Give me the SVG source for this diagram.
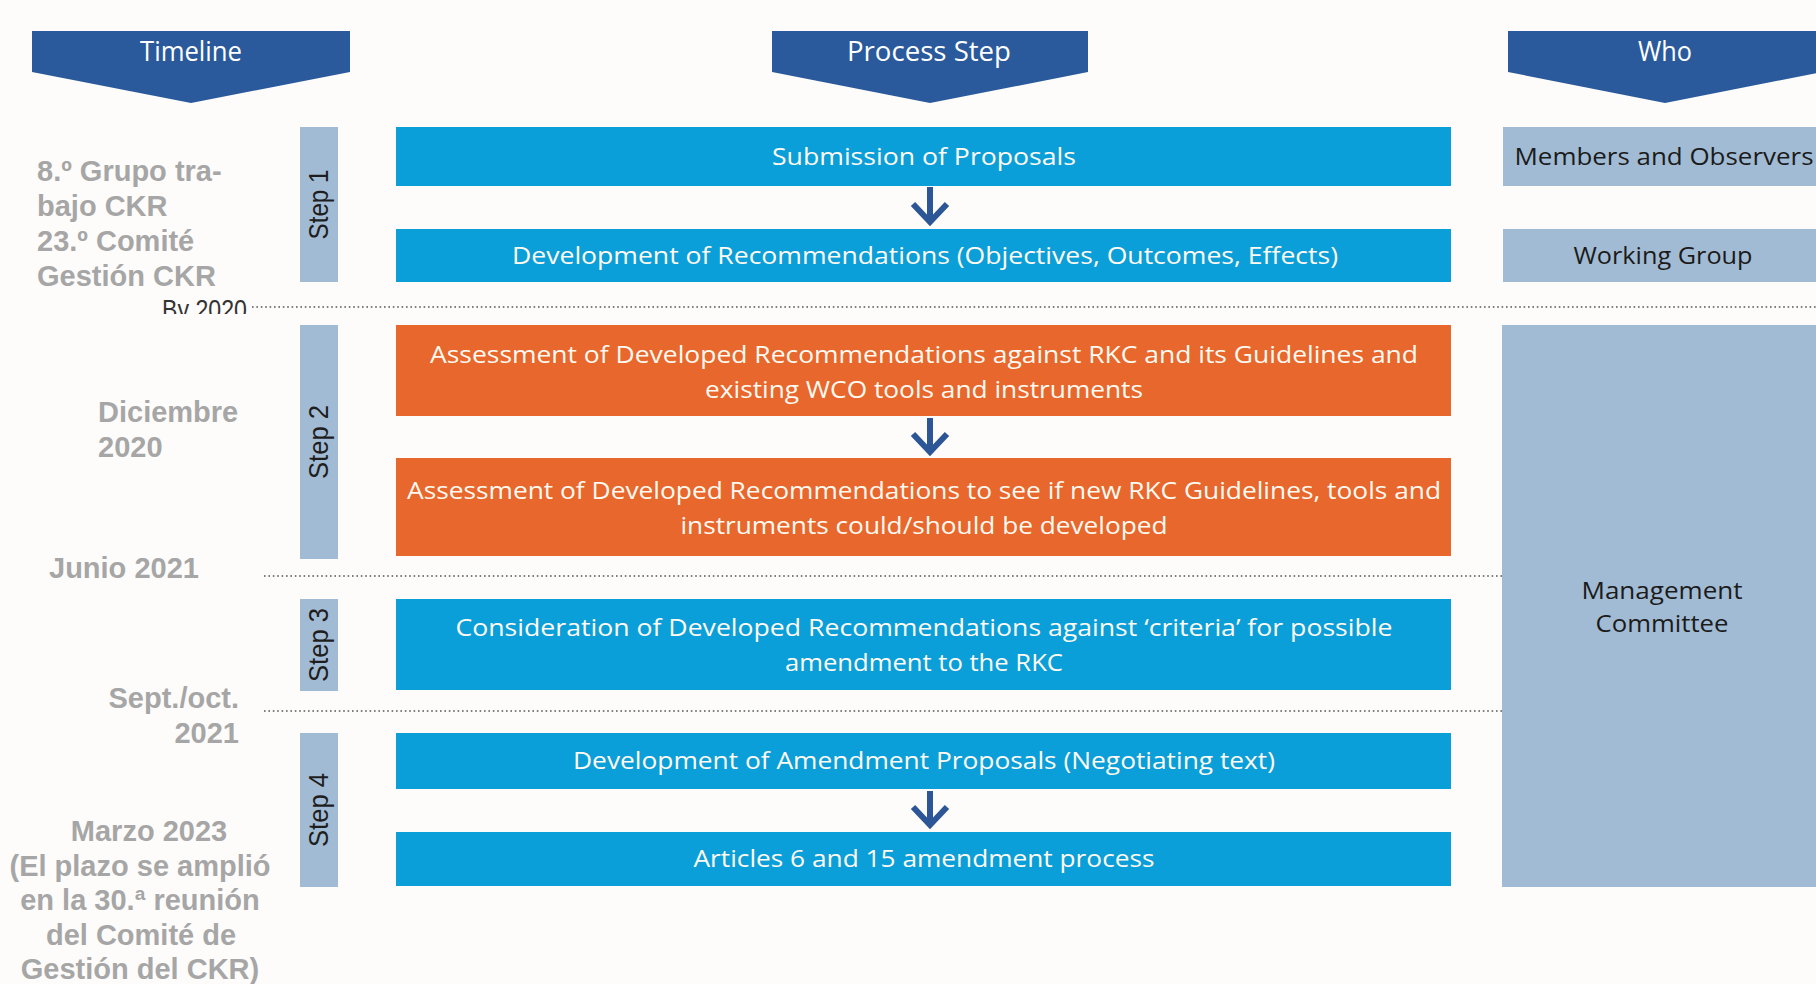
<svg xmlns="http://www.w3.org/2000/svg" width="1816" height="984" viewBox="0 0 1816 984">
<style>
.hdr{fill:#2a5a9b}
.htx{font-family:"Open Sans","Liberation Sans",sans-serif;font-size:27px;fill:#ffffff;text-anchor:middle}
.bx{fill:#0a9fd9}
.or{fill:#e8672c}
.st{fill:#a2bbd4}
.btx{font-family:"Open Sans","Liberation Sans",sans-serif;font-size:24px;fill:#fffaf2;text-anchor:middle}
.wtx{font-family:"Open Sans","Liberation Sans",sans-serif;font-size:24px;fill:#1b1b1b;text-anchor:middle}
.gtx{font-family:"Liberation Sans",Arial,sans-serif;font-weight:bold;font-size:29px;fill:#a6a6a6}
.stp{font-family:"Liberation Sans",Arial,sans-serif;font-size:28px;fill:#1e1e1e;text-anchor:middle}
.dot{stroke:#555;stroke-width:1.6;stroke-dasharray:1.6 2.8;fill:none}
.arr{stroke:#2d5696;stroke-width:6;fill:none}
</style>
<defs>
<clipPath id="clipBy"><rect x="150" y="285" width="110" height="29"/></clipPath>
</defs>
<rect x="0" y="0" width="1816" height="984" fill="#fdfcfa"/>

<g id="hdr-timeline">
<polygon class="hdr" points="32,31 350,31 350,72 191,103 32,72"/>
<text class="htx" x="191" y="61" textLength="102" lengthAdjust="spacingAndGlyphs">Timeline</text>
</g>
<g id="hdr-process">
<polygon class="hdr" points="772,31 1088,31 1088,72 930,103 772,72"/>
<text class="htx" x="929" y="61" textLength="164" lengthAdjust="spacingAndGlyphs">Process Step</text>
</g>
<g id="hdr-who">
<polygon class="hdr" points="1508,31 1822,31 1822,72 1665,103 1508,72"/>
<text class="htx" x="1665" y="61" textLength="54" lengthAdjust="spacingAndGlyphs">Who</text>
</g>

<g id="timeline-texts">
<text class="gtx" x="37" y="181">8.º Grupo tra-</text>
<text class="gtx" x="37" y="216">bajo CKR</text>
<text class="gtx" x="37" y="251">23.º Comité</text>
<text class="gtx" x="37" y="286">Gestión CKR</text>
<text clip-path="url(#clipBy)" x="247" y="319" text-anchor="end" font-family="Liberation Sans,Arial,sans-serif" font-size="28" fill="#333" textLength="85" lengthAdjust="spacingAndGlyphs">By 2020</text>
<text class="gtx" x="98" y="422">Diciembre</text>
<text class="gtx" x="98" y="457">2020</text>
<text class="gtx" x="49" y="578">Junio 2021</text>
<text class="gtx" x="239" y="708" text-anchor="end">Sept./oct.</text>
<text class="gtx" x="239" y="743" text-anchor="end">2021</text>
<text class="gtx" x="149" y="841" text-anchor="middle">Marzo 2023</text>
<text class="gtx" x="140" y="876" text-anchor="middle">(El plazo se amplió</text>
<text class="gtx" x="140" y="910" text-anchor="middle">en la 30.ª reunión</text>
<text class="gtx" x="141" y="945" text-anchor="middle">del Comité de</text>
<text class="gtx" x="140" y="979" text-anchor="middle">Gestión del CKR)</text>
</g>

<g id="step1">
<rect class="st" x="300" y="127" width="38" height="155"/>
<text class="stp" transform="translate(328,204.5) rotate(-90)" textLength="70" lengthAdjust="spacingAndGlyphs">Step 1</text>
</g>
<g id="step2">
<rect class="st" x="300" y="325" width="38" height="234"/>
<text class="stp" transform="translate(328,442) rotate(-90)" textLength="74" lengthAdjust="spacingAndGlyphs">Step 2</text>
</g>
<g id="step3">
<rect class="st" x="300" y="599" width="38" height="92"/>
<text class="stp" transform="translate(328,645) rotate(-90)" textLength="74" lengthAdjust="spacingAndGlyphs">Step 3</text>
</g>
<g id="step4">
<rect class="st" x="300" y="733" width="38" height="154"/>
<text class="stp" transform="translate(328,810) rotate(-90)" textLength="74" lengthAdjust="spacingAndGlyphs">Step 4</text>
</g>

<g id="submission">
<rect class="bx" x="396" y="127" width="1055" height="59"/>
<text class="btx" x="924" y="165" textLength="304" lengthAdjust="spacingAndGlyphs">Submission of Proposals</text>
</g>
<g id="development">
<rect class="bx" x="396" y="229" width="1055" height="53"/>
<text class="btx" x="925" y="264" textLength="826" lengthAdjust="spacingAndGlyphs">Development of Recommendations (Objectives, Outcomes, Effects)</text>
</g>
<g id="assessment1">
<rect class="or" x="396" y="325" width="1055" height="91"/>
<text class="btx" x="924" y="363" textLength="988" lengthAdjust="spacingAndGlyphs">Assessment of Developed Recommendations against RKC and its Guidelines and</text>
<text class="btx" x="924" y="398" textLength="438" lengthAdjust="spacingAndGlyphs">existing WCO tools and instruments</text>
</g>
<g id="assessment2">
<rect class="or" x="396" y="458" width="1055" height="98"/>
<text class="btx" x="924" y="499" textLength="1034" lengthAdjust="spacingAndGlyphs">Assessment of Developed Recommendations to see if new RKC Guidelines, tools and</text>
<text class="btx" x="924" y="534" textLength="487" lengthAdjust="spacingAndGlyphs">instruments could/should be developed</text>
</g>
<g id="consideration">
<rect class="bx" x="396" y="599" width="1055" height="91"/>
<text class="btx" x="924" y="636" textLength="937" lengthAdjust="spacingAndGlyphs">Consideration of Developed Recommendations against ‘criteria’ for possible</text>
<text class="btx" x="924" y="671" textLength="278" lengthAdjust="spacingAndGlyphs">amendment to the RKC</text>
</g>
<g id="amendment-proposals">
<rect class="bx" x="396" y="733" width="1055" height="56"/>
<text class="btx" x="924" y="769" textLength="702" lengthAdjust="spacingAndGlyphs">Development of Amendment Proposals (Negotiating text)</text>
</g>
<g id="articles">
<rect class="bx" x="396" y="832" width="1055" height="54"/>
<text class="btx" x="924" y="867" textLength="461" lengthAdjust="spacingAndGlyphs">Articles 6 and 15 amendment process</text>
</g>

<g id="who-members">
<rect class="st" x="1503" y="127" width="320" height="59"/>
<text class="wtx" x="1664" y="165" textLength="299" lengthAdjust="spacingAndGlyphs">Members and Observers</text>
</g>
<g id="who-working">
<rect class="st" x="1503" y="229" width="320" height="53"/>
<text class="wtx" x="1663" y="264" textLength="179" lengthAdjust="spacingAndGlyphs">Working Group</text>
</g>
<g id="who-management">
<rect class="st" x="1502" y="325" width="320" height="562"/>
<text class="wtx" x="1662" y="599" textLength="161" lengthAdjust="spacingAndGlyphs">Management</text>
<text class="wtx" x="1662" y="632" textLength="133" lengthAdjust="spacingAndGlyphs">Committee</text>
</g>

<g id="connectors">
<line class="dot" x1="252" y1="307" x2="1816" y2="307"/>
<line class="dot" x1="264" y1="576" x2="1502" y2="576"/>
<line class="dot" x1="264" y1="711" x2="1502" y2="711"/>
<path class="arr" d="M930,187 V222 M913,204 L930,222 L947,204"/>
<path class="arr" d="M930,418 V452 M913,434 L930,452 L947,434"/>
<path class="arr" d="M930,791 V825 M913,807 L930,825 L947,807"/>
</g>
</svg>
